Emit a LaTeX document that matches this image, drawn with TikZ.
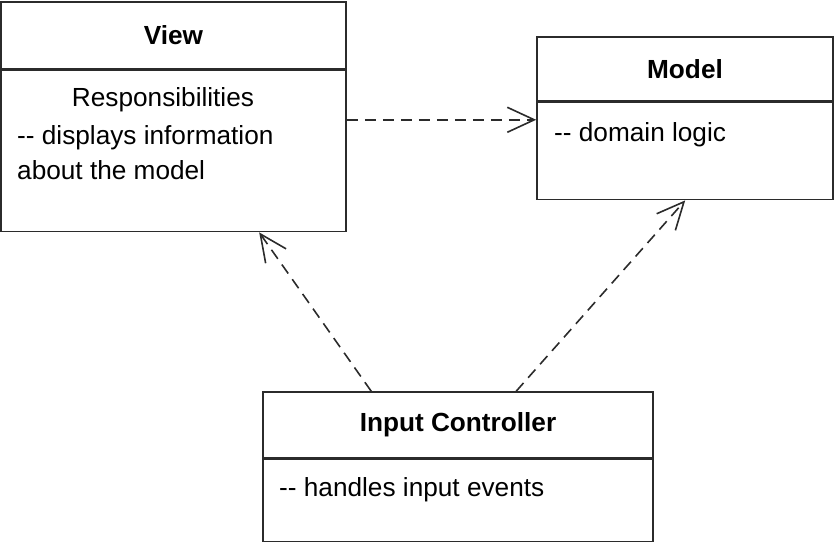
\documentclass[tikz,border=0pt]{standalone}
\usepackage{fontspec}
\setmainfont{Liberation Sans}
\usepackage{xcolor}
\usetikzlibrary{arrows.meta,positioning,calc}
\definecolor{UmlLine}{HTML}{2B2B2B}

\begin{document}
\begin{tikzpicture}[
	x=1pt, y=1pt,
	font=\fontsize{26.2}{35}\selectfont,
	head/.style={draw=UmlLine, line width=1.6pt, font=\fontsize{26.2}{35}\selectfont\bfseries, inner sep=0pt},
	body/.style={draw=UmlLine, line width=1.6pt, inner sep=0pt},
	txt/.style={inner sep=0pt, align=left},
	arrow/.style={-{Straight Barb[length=27pt,width=25pt,line width=1.6pt]}, line width=1.6pt, UmlLine, dash pattern=on 11pt off 7pt}
]
\useasboundingbox (0,0) rectangle (835,542);

\node[head, minimum width=345pt, minimum height=67pt] (viewhead) at (173.5,506.5) {View};
\node[body, minimum width=345pt, minimum height=161pt, below=0pt of viewhead] (viewbody) {};
\node[txt] (viewresp) at (163,442) {Responsibilities};
\node[txt, anchor=west] (viewtext) at (17,389.5) {-{}- displays information\\about the model};

\node[head, minimum width=296pt, minimum height=64pt] (modelhead) at (685,473) {Model};
\node[body, minimum width=296pt, minimum height=97pt, below=0pt of modelhead] (modelbody) {};
\node[txt, anchor=west] (modeltext) at (554,407) {-{}- domain logic};

\node[head, minimum width=390pt, minimum height=66pt] (ctrlhead) at (458,117) {Input Controller};
\node[body, minimum width=390pt, minimum height=82pt, below=0pt of ctrlhead] (ctrlbody) {};
\node[txt, anchor=west] (ctrltext) at (279,52) {-{}- handles input events};

\draw[arrow] ([yshift=-50pt]viewbody.north east) -- ([yshift=-18pt]modelbody.north west);
\draw[arrow] ([xshift=109pt]ctrlhead.north west) -- ([xshift=259pt]viewbody.south west);
\draw[arrow] ([xshift=254pt]ctrlhead.north west) -- ([xshift=149pt]modelbody.south west);
\end{tikzpicture}
\end{document}
